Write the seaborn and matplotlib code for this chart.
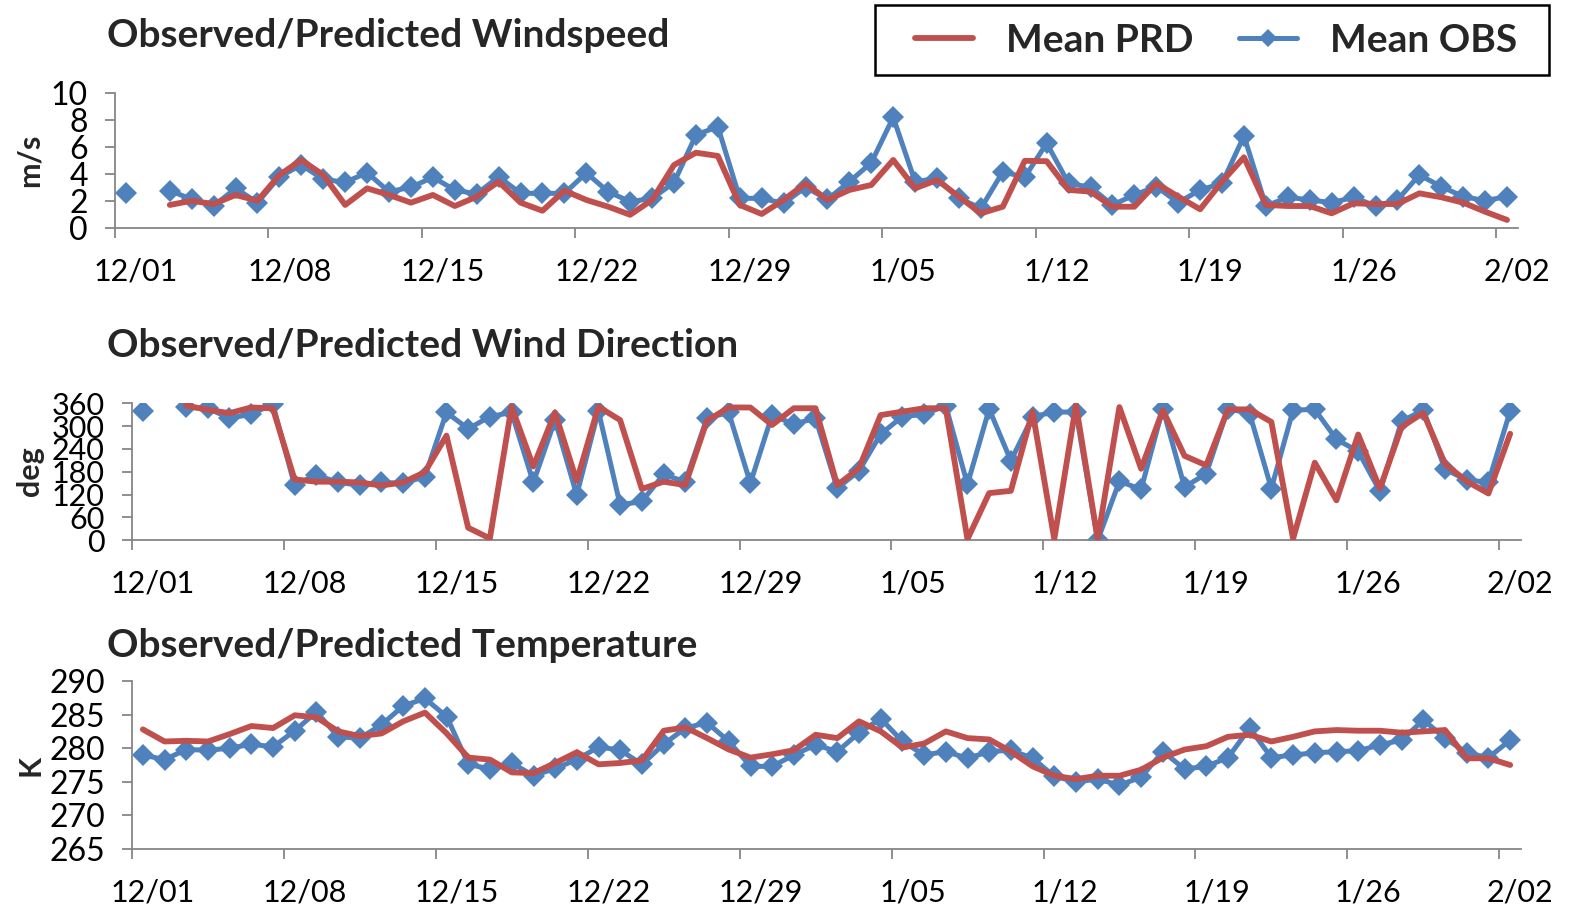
import numpy as np
import pandas as pd
import matplotlib
matplotlib.use("Agg")
import matplotlib.pyplot as plt
import seaborn as sns
from matplotlib.transforms import ScaledTranslation
from matplotlib.lines import Line2D
from matplotlib.patches import Rectangle

nan = np.nan

# ---------------- data ----------------
tick_labels = ["12/01", "12/08", "12/15", "12/22", "12/29", "1/05", "1/12", "1/19", "1/26", "2/02"]
series_names = ["Mean PRD", "Mean OBS"]

ws_yticks = [0, 2, 4, 6, 8, 10]
wd_yticks = [0, 60, 120, 180, 240, 300, 360]
t_yticks = [265, 270, 275, 280, 285, 290]

ws_prd = [nan, nan, 1.73, 2.04, 1.80, 2.47, 2.04, 3.95, 5.06, 3.95,
          1.73, 2.96, 2.47, 1.90, 2.47, 1.65, 2.34, 3.45, 1.90, 1.30,
          2.79, 2.10, 1.60, 1.00, 2.10, 4.69, 5.60, 5.36, 1.73, 1.06,
          2.10, 3.33, 2.10, 2.84, 3.21, 5.06, 2.96, 3.58, 2.34, 1.11,
          1.60, 5.00, 4.97, 2.84, 2.72, 1.60, 1.60, 3.33, 2.35, 1.41,
          3.46, 5.26, 1.73, 1.65, 1.65, 1.11, 1.85, 1.80, 1.80, 2.59,
          2.30, 1.90, 1.23, 0.62]
ws_obs = [2.64, nan, 2.79, 2.15, 1.65, 2.96, 1.90, 3.82, 4.69, 3.63,
          3.41, 4.12, 2.71, 3.04, 3.78, 2.84, 2.54, 3.82, 2.59, 2.59,
          2.59, 4.10, 2.71, 1.97, 2.22, 3.38, 6.91, 7.53, 2.22, 2.22,
          1.85, 3.04, 2.15, 3.45, 4.86, 8.22, 3.45, 3.70, 2.22, 1.48,
          4.19, 3.78, 6.30, 3.33, 3.04, 1.73, 2.47, 3.09, 1.90, 2.84,
          3.33, 6.84, 1.65, 2.30, 2.10, 1.90, 2.30, 1.65, 2.10, 3.95,
          3.09, 2.35, 2.05, 2.35]

wd_prd = [nan, nan, 354, 343, 334, 349, 347, 160, 154, 154,
          152, 144, 152, 179, 275, 33, 5, 351, 194, 336,
          156, 351, 316, 135, 154, 145, 314, 349, 349, 303,
          347, 347, 145, 189, 329, 338, 347, 347, 3, 124,
          130, 338, 3, 356, 3, 350, 188, 342, 222, 197,
          344, 344, 311, 4, 204, 105, 278, 136, 298, 335,
          201, 155, 123, 280]
wd_obs = [340, nan, 349, 347, 321, 331, 358, 145, 172, 152,
          145, 152, 150, 167, 336, 293, 325, 336, 152, 316,
          119, 340, 93, 102, 173, 154, 321, 336, 150, 329,
          305, 321, 137, 182, 279, 325, 331, 354, 147, 345,
          209, 325, 337, 337, 0, 155, 134, 346, 140, 175,
          346, 333, 136, 342, 344, 265, 234, 129, 313, 342,
          187, 158, 153, 339]

t_prd = [282.8, 281.0, 281.1, 281.0, 282.1, 283.3, 283.0, 284.9, 284.6, 282.5,
         281.8, 282.2, 284.0, 285.3, 282.2, 278.6, 278.3, 276.4, 276.3, 277.8,
         279.4, 277.6, 277.8, 278.2, 282.6, 283.1, 281.5, 279.8, 278.6, 279.1,
         279.7, 282.0, 281.5, 284.0, 282.5, 280.1, 280.7, 282.5, 281.5, 281.3,
         279.5, 277.3, 275.9, 275.4, 275.9, 275.9, 276.8, 278.6, 279.8, 280.3,
         281.7, 282.0, 281.0, 281.7, 282.5, 282.7, 282.6, 282.6, 282.3, 282.5,
         282.7, 278.5, 278.5, 277.5]
t_obs = [279.0, 278.3, 279.8, 279.7, 280.0, 280.6, 280.2, 282.6, 285.4, 281.7,
         281.5, 283.5, 286.3, 287.4, 284.7, 277.6, 276.9, 277.8, 275.9, 277.0,
         278.3, 280.2, 279.7, 277.6, 280.6, 283.0, 283.8, 281.0, 277.3, 277.3,
         279.0, 280.5, 279.5, 282.3, 284.4, 281.0, 279.0, 279.5, 278.5, 279.5,
         279.7, 278.5, 275.8, 275.0, 275.4, 274.5, 275.7, 279.5, 276.9, 277.3,
         278.6, 283.0, 278.6, 279.0, 279.3, 279.5, 279.6, 280.5, 281.2, 284.2,
         281.5, 279.3, 278.6, 281.2]

# ---------------- style ----------------
sns.set_theme(style="white")
plt.rcParams['font.family'] = ['Lato', 'DejaVu Sans']

RED = "#C0504D"
BLUE = "#4F81BD"
GRAY = "#868686"
W, H = 1574, 908

fig = plt.figure(figsize=(W / 100, H / 100), dpi=100)

panels = [
    dict(prd=ws_prd, obs=ws_obs, ylim=(0, 10), yticks=ws_yticks,
         title="Observed/Predicted Windspeed", ylabel="m/s",
         rect=(115, 93.3, 1518, 228.3), title_base=47, ylab_y=160, ytick_size=23),
    dict(prd=wd_prd, obs=wd_obs, ylim=(0, 360), yticks=wd_yticks,
         title="Observed/Predicted Wind Direction", ylabel="deg",
         rect=(131.7, 403.3, 1521, 540.3), title_base=357, ylab_y=471, ytick_size=22),
    dict(prd=t_prd, obs=t_obs, ylim=(265, 290), yticks=t_yticks,
         title="Observed/Predicted Temperature", ylabel="K",
         rect=(132, 681, 1521, 849), title_base=657, ylab_y=765, ytick_size=23),
]

n_days = len(ws_obs)
label_shift = ScaledTranslation(21 / 100, 0, fig.dpi_scale_trans)

for p in panels:
    x0, y0, x1, y1 = p["rect"]
    ax = fig.add_axes([x0 / W, 1 - y1 / H, (x1 - x0) / W, (y1 - y0) / H])
    df = pd.DataFrame({"x": np.arange(n_days) + 0.5,
                       "PRD": p["prd"], "OBS": p["obs"]})
    df["seg_obs"] = df["OBS"].isna().cumsum()
    df["seg_prd"] = df["PRD"].isna().cumsum()
    sns.lineplot(data=df, x="x", y="OBS", units="seg_obs", estimator=None,
                 color=BLUE, linewidth=3.6, marker="D", markersize=11.5,
                 markeredgecolor=BLUE, markeredgewidth=0, ax=ax, zorder=2)
    sns.lineplot(data=df, x="x", y="PRD", units="seg_prd", estimator=None,
                 color=RED, linewidth=4.2, ax=ax, zorder=3)
    ax.set_xlim(0, n_days)
    ax.set_ylim(*p["ylim"])
    ax.set_yticks(p["yticks"])
    ax.set_xticks(np.arange(0, n_days, 7))
    ax.set_xticklabels(tick_labels)
    ax.set_xlabel("")
    ax.set_ylabel("")
    for s in ["top", "right"]:
        ax.spines[s].set_visible(False)
    for s in ["left", "bottom"]:
        ax.spines[s].set_color(GRAY)
        ax.spines[s].set_linewidth(1.3)
    ax.tick_params(axis="both", direction="out", length=7.5, width=1.3,
                   color=GRAY, labelcolor="black")
    ax.tick_params(axis="x", pad=13.5, bottom=True, labelsize=22)
    ax.tick_params(axis="y", pad=12, left=True, labelsize=p["ytick_size"])
    for lab in ax.get_xticklabels():
        lab.set_transform(lab.get_transform() + label_shift)
    ax.set_facecolor("none")
    fig.text(107 / W, 1 - p["title_base"] / H, p["title"], fontsize=28,
             fontweight="bold", ha="left", va="baseline")
    fig.text(30 / W, 1 - p["ylab_y"] / H, p["ylabel"], fontsize=22,
             fontweight="bold", rotation=90, ha="center", va="center")

# legend (frame drawn as a separate box to match the reference padding)
handles = [Line2D([], [], color=RED, linewidth=4.2, solid_capstyle="round"),
           Line2D([], [], color=BLUE, linewidth=3.6, marker="D",
                  markersize=9, markeredgewidth=0, solid_capstyle="round")]
leg = fig.legend(handles=handles, labels=series_names, ncol=2,
                 loc="center", bbox_to_anchor=((920 + 1512) / 2 / W, 1 - 40 / H),
                 frameon=False, prop={"weight": "bold", "size": 28},
                 handlelength=1.5, columnspacing=1.15, handletextpad=0.85,
                 borderpad=0, borderaxespad=0)
fig.add_artist(Rectangle((875 / W, 1 - 75 / H), 674 / W, 70 / H,
                         transform=fig.transFigure, fill=False,
                         edgecolor="black", linewidth=1.8))

fig.savefig("out.png", dpi=100)
